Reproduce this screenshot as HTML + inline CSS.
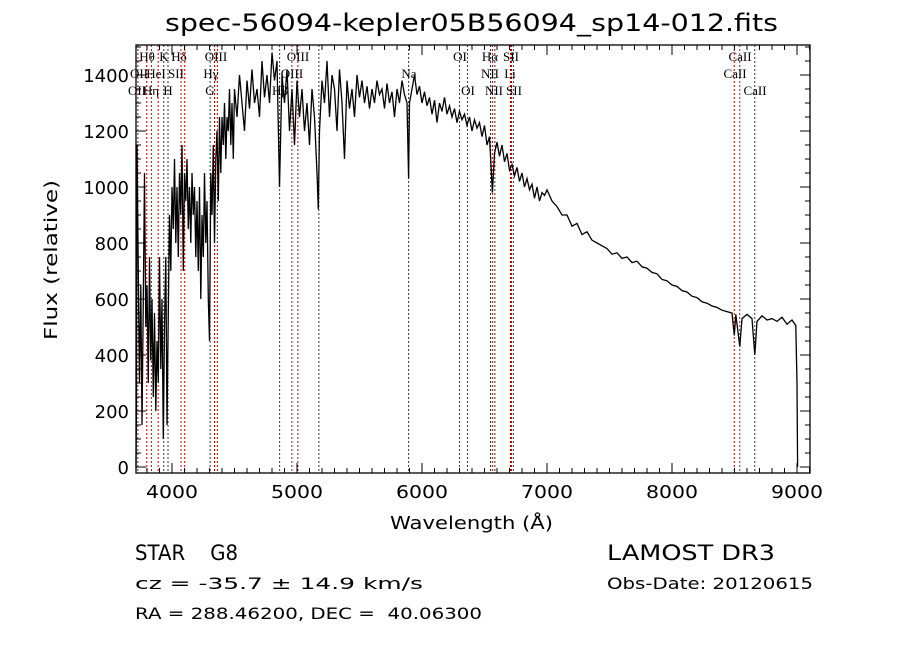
<!DOCTYPE html>
<html><head><meta charset="utf-8"><style>
body{margin:0;background:#fff;width:900px;height:649px;overflow:hidden}
svg{display:block}
.t{font-family:"DejaVu Sans","Liberation Sans",sans-serif;fill:#000;white-space:pre}
.l{font-family:"Liberation Serif",serif;font-size:13px;fill:#000}
</style></head><body>
<svg id="c" width="900" height="649" xmlns="http://www.w3.org/2000/svg">
<text class="t" x="165" y="31" font-size="24" textLength="613" lengthAdjust="spacingAndGlyphs">spec-56094-kepler05B56094_sp14-012.fits</text>
<text class="t" x="390" y="529" font-size="18" textLength="163" lengthAdjust="spacingAndGlyphs">Wavelength (Å)</text>
<text class="t" x="0" y="0" font-size="18" textLength="160" lengthAdjust="spacingAndGlyphs" transform="translate(57,340) rotate(-90)">Flux (relative)</text>
<text class="t" x="135" y="560" font-size="21" textLength="103" lengthAdjust="spacingAndGlyphs">STAR    G8</text>
<text class="t" x="135" y="589" font-size="16" textLength="288" lengthAdjust="spacingAndGlyphs">cz = -35.7 ± 14.9 km/s</text>
<text class="t" x="135" y="619" font-size="16" textLength="347" lengthAdjust="spacingAndGlyphs">RA = 288.46200, DEC =  40.06300</text>
<text class="t" x="607" y="560" font-size="21" textLength="168" lengthAdjust="spacingAndGlyphs">LAMOST DR3</text>
<text class="t" x="607" y="589" font-size="16" textLength="206" lengthAdjust="spacingAndGlyphs">Obs-Date: 20120615</text>
<g id="plot"></g>
</svg>
<script>
const wlBlue=[3712,3715,3720,3730,3740,3750,3760,3770,3780,3790,3800,3810,3820,3830,3840,3850,3860,3870,3880,3890,3900,3910,3920,3930,3940,3950,3960,3970,3980,3990,4000,4010,4020,4030,4040,4050,4060,4070,4080,4090,4100,4110,4120,4130,4140,4150,4160,4170,4180,4190,4200,4210,4220,4230,4240,4250,4260,4270,4280,4290,4300,4310,4320,4330,4340,4350,4360,4370,4380,4390,4400,4410,4420,4430,4440,4450,4460,4470,4480,4490,4500];
const fluxBlue=[0,200,1150,700,300,650,150,600,1050,500,650,300,750,380,600,250,550,200,450,300,750,350,600,100,500,750,150,550,900,700,1000,850,1100,800,1000,750,1050,900,1150,700,1050,950,1100,850,1000,800,1050,900,1000,750,950,700,1000,600,900,750,1050,800,950,600,450,1050,900,1150,800,1100,1200,950,1250,1050,1250,1150,1300,1100,1250,1200,1350,1150,1300,1100,1350];
const wlMid=[4520,4540,4560,4580,4600,4620,4640,4660,4680,4700,4720,4740,4760,4780,4800,4820,4840,4860,4880,4900,4920,4940,4960,4980,5000,5020,5040,5060,5080,5100,5120,5140,5160,5170,5180,5200,5220,5240,5260,5280,5300,5320,5340,5360,5380,5400,5420,5440,5460,5480,5500,5520,5540,5560,5580,5600,5620,5640,5660,5680,5700,5720,5740,5760,5780,5800,5820,5840,5860,5880,5893,5900,5920,5940,5960,5980,6000,6020,6040,6060,6080,6100,6120,6140,6160,6180,6200,6220,6240,6260,6280,6300,6320,6340,6360,6380,6400,6420,6440,6460,6480,6500,6520,6540];
const fluxMid=[1250,1400,1300,1200,1380,1280,1420,1300,1350,1250,1450,1320,1400,1300,1480,1380,1450,1000,1400,1300,1420,1200,1350,1150,1380,1250,1350,1200,1300,1150,1350,1250,1050,920,1200,1380,1300,1450,1250,1400,1350,1200,1420,1300,1100,1380,1280,1350,1250,1400,1320,1380,1300,1360,1280,1350,1300,1380,1330,1350,1280,1370,1300,1340,1250,1350,1300,1380,1330,1300,1030,1300,1350,1400,1330,1360,1300,1340,1290,1320,1260,1310,1230,1300,1270,1320,1260,1290,1250,1280,1230,1270,1240,1260,1220,1250,1200,1240,1210,1230,1180,1220,1150,1180];
const wlRed=[6563,6580,6600,6620,6640,6660,6680,6700,6720,6740,6760,6780,6800,6820,6840,6860,6880,6900,6920,6940,6960,6980,7000,7040,7080,7120,7160,7200,7240,7280,7320,7360,7400,7440,7480,7520,7560,7600,7640,7680,7720,7760,7800,7840,7880,7920,7960,8000,8040,8080,8120,8160,8200,8240,8280,8320,8360,8400,8440,8480,8498,8510,8542,8560,8600,8640,8662,8680,8720,8760,8800,8840,8880,8920,8960,8990,9000,9005];
const fluxRed=[980,1120,1160,1110,1150,1090,1120,1060,1080,1040,1070,1020,1050,1000,1030,990,1010,960,1000,950,980,970,990,950,930,900,900,860,870,830,840,810,800,790,780,760,765,745,750,730,735,715,710,695,690,670,665,650,645,630,625,610,605,590,585,575,570,560,555,550,470,545,430,530,545,530,400,520,540,525,530,520,535,510,525,505,300,0];
const wl=wlBlue.concat(wlMid,wlRed);
const flux=fluxBlue.concat(fluxMid,fluxRed);
const lineWl=[3727,3798,3835,3889,3934,3968,4072,4102,4305,4340,4363,4861,4959,5007,5175,5893,6300,6364,6548,6563,6583,6708,6716,6731,8498,8542,8662];
const lineBlack=[0,0,0,0,1,1,0,0,1,0,0,0,0,0,1,1,0,0,1,0,1,0,0,0,0,0,1];
const labels=[["Hθ",147,1],["K",164,1],["Hδ",179,1],["OIII",216,1],["OIII",298,1],["OI",460,1],["Hα",490,1],["SII",511,1],["CaII",740,1],
["OII",139,2],["HeI",156,2],["SII",176,2],["Hγ",211,2],["OIII",292,2],["Na",409,2],["NII",490,2],["Li",510,2],["CaII",735,2],
["OII",137,3],["Hη",151,3],["H",168,3],["G",210,3],["Hβ",280,3],["OI",468,3],["NII",494,3],["SII",514,3],["CaII",755,3]];
const xTicks=[4000,5000,6000,7000,8000,9000];
const yTicks=[0,200,400,600,800,1000,1200,1400];
const L=136,R=810,T=45,B=473;
const X=w=>172+(w-4000)*0.125;
const Y=f=>467-f*0.28;
const g=document.getElementById('plot');
const NS='http://www.w3.org/2000/svg';
function mk(t,a){const e=document.createElementNS(NS,t);for(const k in a)e.setAttribute(k,a[k]);g.appendChild(e);return e;}
lineWl.forEach((w,i)=>{const e=mk('line',{x1:X(w),x2:X(w),y1:T,y2:B,stroke:lineBlack[i]?'#333':'#c00000','stroke-width':1,'stroke-dasharray':'2,2'});

});
labels.forEach(a=>{const e=mk('text',{x:a[1],y:57+(a[2]-1)*17+4,'text-anchor':'middle',class:'l'});e.textContent=a[0];

});
let d='';wl.forEach((w,i)=>{d+=(i?'L':'M')+X(w).toFixed(1)+','+Math.max(T,Y(flux[i])).toFixed(1);});
const p=mk('path',{d:d,fill:'none',stroke:'#000','stroke-width':1.3});


let td='';
for(let w=3800;w<=9100;w+=100){const x=X(w);const len=(w%1000==0)?10:5;td+=`M${x},${B}v${-len}M${x},${T}v${len}`;}
for(let f=0;f<=1500;f+=50){const y=Y(f);const len=(f%200==0)?10:5;td+=`M${L},${y}h${len}M${R},${y}h${-len}`;}
const tk=mk('path',{d:td,stroke:'#000','stroke-width':1,fill:'none'});


const fr=mk('rect',{x:L,y:T,width:R-L,height:B-T,fill:'none',stroke:'#000','stroke-width':1.3});


xTicks.forEach(v=>{const e=mk('text',{x:X(v)-26,y:B+25,class:'t','font-size':18,textLength:52,lengthAdjust:'spacingAndGlyphs'});e.textContent=v;

});
yTicks.forEach(v=>{const e=mk('text',{x:L-7,y:Y(v)+7,'text-anchor':'end',class:'t','font-size':18});e.textContent=v;

});
</script>
</body></html>
